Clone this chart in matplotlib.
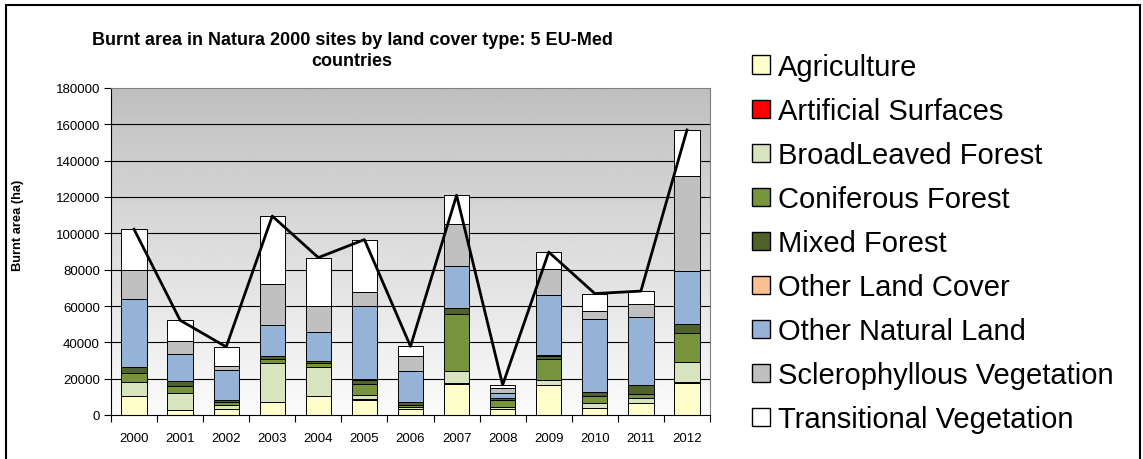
import numpy as np
import matplotlib
matplotlib.use("Agg")
import matplotlib.pyplot as plt
from matplotlib.patches import Rectangle, Patch

plt.rcParams['font.family'] = ['Liberation Sans', 'DejaVu Sans']

years = ['2000', '2001', '2002', '2003', '2004', '2005', '2006',
         '2007', '2008', '2009', '2010', '2011', '2012']

agriculture = [10300, 2500, 3250, 6950, 10300, 8400, 3250, 17200, 3250, 16500, 3650, 6600, 17600]
artificial = [150, 100, 100, 150, 150, 150, 100, 300, 100, 150, 100, 100, 300]
broadleaved = [7600, 9500, 2200, 21300, 15700, 2550, 1100, 6600, 1100, 2550, 2950, 2850, 11300]
coniferous = [5150, 3650, 1450, 2550, 2550, 5800, 1100, 31500, 4050, 11700, 3650, 2200, 16100]
mixed = [2950, 2950, 1100, 1450, 1100, 2550, 1450, 3250, 750, 1850, 2150, 4750, 4750]
other_land = [100, 100, 50, 100, 100, 100, 50, 100, 50, 100, 100, 100, 100]
other_natural = [37400, 14650, 16500, 16800, 15700, 40400, 17200, 23100, 2900, 33000, 40000, 37300, 29300]
sclerophyllous = [16400, 7300, 2150, 22800, 14650, 7600, 8400, 23100, 2550, 14650, 4750, 7400, 52100]
transitional = [22200, 11400, 10700, 37400, 26400, 29000, 5150, 15800, 1850, 9200, 9500, 6900, 25300]

series = [
    ('Agriculture', agriculture, '#FFFFCC'),
    ('Artificial Surfaces', artificial, '#FF0000'),
    ('BroadLeaved Forest', broadleaved, '#D7E4BD'),
    ('Coniferous Forest', coniferous, '#77933C'),
    ('Mixed Forest', mixed, '#4F6228'),
    ('Other Land Cover', other_land, '#FAC090'),
    ('Other Natural Land', other_natural, '#95B3D7'),
    ('Sclerophyllous Vegetation', sclerophyllous, '#C0C0C0'),
    ('Transitional Vegetation', transitional, '#FFFFFF'),
]

W, H = 1143, 460
fig = plt.figure(figsize=(W / 100, H / 100), dpi=100)
ax = fig.add_axes([111 / W, 44 / H, 599 / W, 327 / H])

x = np.arange(len(years))
ax.set_xlim(-0.5, len(years) - 0.5)
ax.set_ylim(0, 180000)

# vertical grey gradient behind the plot: darker at the top, near white at the bottom
grad = np.linspace(0.75, 0.985, 256).reshape(-1, 1)
ax.imshow(grad, extent=[-0.5, len(years) - 0.5, 0, 180000], aspect='auto',
          cmap='gray', vmin=0, vmax=1, zorder=0, origin='upper')

for yv in range(20000, 180000, 20000):
    ax.axhline(yv, color='black', lw=0.8, zorder=1)

bottom = np.zeros(len(years))
for name, vals, col in series:
    v = np.array(vals, dtype=float)
    ax.bar(x, v, width=0.55, bottom=bottom, color=col, edgecolor='black',
           linewidth=0.7, zorder=2)
    bottom += v

ax.plot(x, bottom, color='black', lw=2.0, zorder=3)

ax.set_yticks(range(0, 180001, 20000))
ax.set_yticklabels([str(v) for v in range(0, 180001, 20000)], fontsize=9.5)
ax.set_xticks(x)
ax.set_xticklabels(years, fontsize=9.5)
ax.tick_params(axis='x', length=0, pad=12)
ax.set_xticks(np.arange(-0.5, len(years), 1.0), minor=True)
ax.tick_params(axis='x', which='minor', length=5, width=0.8, direction='out')
ax.tick_params(axis='y', length=5, width=0.8, direction='out', pad=3)

ax.spines['left'].set_color('black')
ax.spines['bottom'].set_color('black')
ax.spines['top'].set_color('#808080')
ax.spines['right'].set_color('#808080')

fig.text(18 / W, 1 - 225 / H, 'Burnt area (ha)', rotation=90,
         ha='center', va='center', fontsize=9.3, fontweight='bold')

fig.text(352 / W, 1 - 51 / H,
         'Burnt area in Natura 2000 sites by land cover type: 5 EU-Med\ncountries',
         ha='center', va='center', fontsize=13, fontweight='bold',
         linespacing=1.3)

handles = [Patch(facecolor=col, edgecolor='black', linewidth=1.0)
           for _, _, col in series]
labels = [name for name, _, _ in series]
fig.legend(handles, labels, loc='upper left',
           bbox_to_anchor=(752 / W, 1 - 54 / H), frameon=False,
           fontsize=21, handlelength=0.6, handleheight=0.6,
           handletextpad=0.3, labelspacing=0.55, borderaxespad=0,
           borderpad=0)

fig.patches.append(Rectangle((6 / W, -0.1), 1134 / W, 1.1 - 6 / H,
                             transform=fig.transFigure, fill=False,
                             edgecolor='black', lw=1.5))

fig.savefig('out.png', dpi=100)
